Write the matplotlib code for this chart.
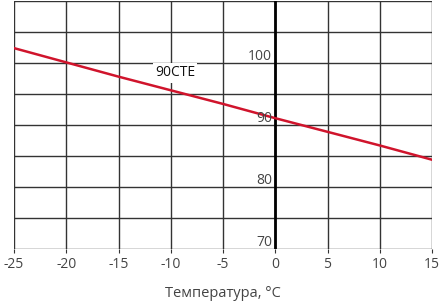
import matplotlib.pyplot as plt
import numpy as np

temperature = np.array([-25, -20, -15, -10, -5, 0, 5, 10, 15])
value = np.array([102.4, 100.1, 97.8, 95.6, 93.4, 91.1, 88.9, 86.7, 84.4])

x_ticks = [-25, -20, -15, -10, -5, 0, 5, 10, 15]
y_labels = [70, 80, 90, 100]
series_name = '90CTE'

plt.rcParams['font.family'] = ['Open Sans', 'DejaVu Sans']

fig = plt.figure(figsize=(4.44, 3.03), dpi=100)
ax = fig.add_axes([14 / 444, 1 - 249 / 303, 418 / 444, 248 / 303])

ax.set_xlim(-25, 15)
ax.set_ylim(70, 110)

# grid
for xv in x_ticks:
    ax.axvline(xv, color='#333333', lw=1.0, zorder=1)
for yv in np.arange(70, 111, 5):
    ax.axhline(yv, color='#333333', lw=1.0, zorder=1)
ax.axvline(0, color='black', lw=2, zorder=2)

for s in ax.spines.values():
    s.set_visible(False)

ax.plot(temperature, value, color='#d0142c', lw=1.8, zorder=3)

ax.set_xticks(x_ticks)
ax.set_xticklabels([str(t) for t in x_ticks])
ax.tick_params(axis='x', length=3, color='#333333', labelsize=10, labelcolor='#444444', pad=3)
ax.set_yticks([])

for yv in y_labels:
    ax.text(-0.3, yv - 0.2, str(yv), ha='right', va='bottom', fontsize=10, color='#444444', zorder=4)

ax.text(-9.6, 98.4, series_name, ha='center', va='center', fontsize=10, color='#111111',
        zorder=4, bbox=dict(facecolor='white', edgecolor='none', pad=1.5))

ax.set_xlabel('Температура, °C', fontsize=10.5, color='#444444', labelpad=10)

fig.savefig('out.png', dpi=100)
